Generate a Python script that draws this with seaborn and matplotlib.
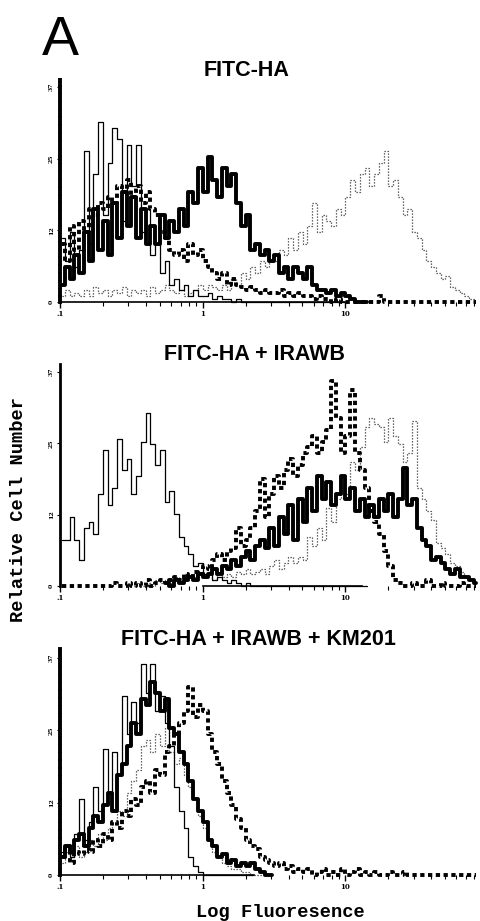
import numpy as np
import pandas as pd
import matplotlib
matplotlib.use("Agg")
import matplotlib.pyplot as plt
import seaborn as sns

nan = np.nan

# ---- data: histogram counts per log channel (30 channels / decade, 0.1 .. ~85) ----
panel_titles = ["FITC-HA", "FITC-HA + IRAWB", "FITC-HA + IRAWB + KM201"]
ytick_values = [0, 12.33, 24.67, 37]
ytick_labels = ["0", "12", "25", "37"]
xtick_values = [0.1, 1, 10]
xtick_labels = [".1", "1", "10"]

# Panel 1: FITC-HA
p1_thin = [11, 7, 12, 6, 9, 26, 10, 22, 31, 15, 24, 30, 28, 14, 27, 20, 27, 12, 16, 8,
           10, 5, 7, 3, 4, 2, 3, 1, 2, 1, 1, 1.5, 0.5, 1, 0.5, 0.5, 0, 0.5, 0, 0] \
          + [0] * 21 + [nan] * 27
p1_thick = [3, 6, 4, 8, 5, 12, 7, 16, 9, 14, 8, 17, 11, 19, 13, 18, 11, 16, 10, 13,
            10, 15, 11, 14, 12, 16, 13, 19, 17, 23, 19, 25, 21, 18, 23, 20, 22, 17, 13, 15,
            9, 10, 8, 9, 7, 8, 5, 6, 4, 6, 5, 4, 6, 3, 2, 2, 1.5, 2, 1, 1.5,
            1, 0.5, 0, 0, 0] + [nan] * 23
p1_dash = [10, 7, 13, 9, 14, 12, 16, 15, 17, 16, 18, 17, 20, 19, 21, 18, 20, 17, 19, 16,
           15, 12, 11, 9, 8, 9, 7, 10, 8, 9, 7, 6, 5, 4, 5, 3, 4, 3, 2.5, 2,
           2.5, 2, 1.5, 2, 1.5, 1.5, 2, 1, 1.5, 1, 1.5, 1, 1, 0.5, 1, 0.5, 0.5, 0, 0.5, 0,
           0, 0, 0, 0, 0, 0, 0, 1, 0, 0] + [0] * 18
p1_dot = [1, 2, 1, 1.5, 1, 2, 1, 2.5, 1.5, 2, 1, 2, 1.5, 2.5, 1, 2, 1.5, 2, 1, 2.5,
          1.5, 2, 3, 2, 1.5, 2, 1, 1.5, 2, 3, 2, 3, 2.5, 2, 3, 2, 4, 3, 5, 4,
          6, 5, 7, 6, 8, 7, 9, 8, 11, 9, 12, 10, 13, 17, 12, 15, 14, 13, 16, 15,
          18, 21, 19, 22, 23, 20, 22, 24, 26, 20, 21, 18, 15, 16, 12, 11, 9, 7, 6, 5,
          4, 4.5, 2.5, 2, 1.5, 1, 0.5, 0]

# Panel 2: FITC-HA + IRAWB
p2_thin = [8, 8, 12, 8, 4.5, 10, 11, 9, 16, 23.5, 14, 17, 25.5, 20, 22, 16, 19, 25, 30, 24.5,
           21, 23.5, 14.5, 16.5, 12.5, 8.5, 7, 5.5, 3.5, 4, 2, 2.5, 1, 1.5, 1, 0.5, 1, 0.5, 0, 0.5] \
          + [0] * 25 + [nan] * 23
p2_thick = [nan] * 22 + [0.5, 0, 1, 0.5, 1, 1.5, 1, 2, 1.5, 2, 3, 2, 3.5, 3, 4.5, 3.5, 5, 6,
            4.5, 7, 8, 6.5, 10, 7, 12, 9, 14, 8, 15, 11, 17, 13, 19, 15, 18, 14, 16, 19,
            15, 17, 13, 15, 12, 14, 12, 15, 13, 16, 12, 15, 20.5, 14, 15, 10, 8, 7, 4.5, 5,
            4, 3, 2, 3, 1.5, 1.5, 1, 0.5]
p2_dash = [0] * 10 + [0, 0.5, 0, 0, 0.5, 0, 0.5, 0, 1, 0,
           0.5, 1, 0.5, 1, 1.5, 1, 2, 1.5, 2.5, 2, 3.5, 3, 4.5, 5.5, 4.5, 6, 6.5, 10, 7, 8,
           10, 13, 18.5, 12, 16, 19, 17, 20, 22, 19, 21, 23, 24, 26, 23, 25, 27, 35.5, 29, 23,
           26, 34, 23, 20, 17, 13, 11, 9, 6, 3.5, 1, 0.5, 0, 0, 0.5, 0, 0, 1, 0, 0,
           0.5, 0, 0, 0, 0.5, 0, 0, 0]
p2_dot = [nan] * 15 + [0, 0.5, 0, 0.5, 0, 1, 0.5, 1, 0.5, 1.5, 1, 2, 1, 1.5, 2,
          1.5, 2, 1, 2.5, 1.5, 2, 1.5, 2.5, 2, 3, 2, 2.5, 3, 2, 3.5, 4.5, 3, 4, 5, 4,
          5, 4.5, 8.5, 7, 10, 8, 13.5, 11, 15, 17, 16, 21.5, 20, 24, 27.5, 29, 28, 27.5, 25, 29,
          26, 24.5, 21.5, 23, 28.5, 17, 15, 13, 11.5, 7.5, 6.5, 5.5, 4, 3.5, 2.5, 1.5, 1, 0.5]

# Panel 3: FITC-HA + IRAWB + KM201
p3_thin = [4, 5, 3, 7, 13, 6, 9, 15, 11, 21.5, 14, 21, 17, 30.5, 24, 29.5, 26, 36, 31, 36,
           28, 30.5, 26, 22, 15, 11, 8, 3, 1.5, 0.5] + [0] * 11 + [nan] * 47
p3_thick = [3, 5, 4, 6, 7, 5, 8, 10, 9, 12, 14, 11, 17, 19, 22, 26, 24, 30, 29, 33,
            31, 28, 30, 25, 24, 21, 19, 16, 13, 11, 9, 6, 5, 3, 3.5, 2, 2.5, 1.5, 2, 1.5,
            2, 1, 0.5, 0, 0] + [nan] * 43
p3_dash = [3, 5, 2, 4, 3.5, 5, 4, 6, 5, 7, 6, 9, 8, 11, 10, 13, 12, 15, 16, 14,
           18, 17, 21, 22, 24, 26, 28, 32, 27, 29, 28, 24, 21, 19, 16, 14, 12, 9.5, 8, 6,
           5, 4.5, 3, 2.5, 2, 1.5, 2, 1, 1.5, 0.5, 1, 0.5, 1, 0, 0.5, 1, 0, 0.5, 0, 1,
           0, 0.5, 1, 0, 0.5, 0, 0.5, 0, 0, 0.5, 0, 0, 0.5, 0, 0] + [0] * 13
p3_dot = [2, 4, 3, 5, 3, 4, 6, 5, 7, 6, 8, 9, 11, 10, 14, 16, 18, 22, 23, 21,
          24, 22, 25, 21, 19, 20, 17, 15, 13, 10, 8, 6, 4, 3, 2, 1.5, 1, 1, 0.5, 0.5,
          0, 0, 0, 0, 0] + [nan] * 43

panels = [
    dict(dot=p1_dot, thin=p1_thin, thick=p1_thick, dash=p1_dash),
    dict(dot=p2_dot, thin=p2_thin, thick=p2_thick, dash=p2_dash),
    dict(dot=p3_dot, thin=p3_thin, thick=p3_thick, dash=p3_dash),
]

# ---- styling ----
sns.set_style("ticks")
plt.rcParams["font.family"] = ["Liberation Sans", "DejaVu Sans"]
for key in ["text.color", "axes.labelcolor", "xtick.color", "ytick.color", "axes.edgecolor"]:
    plt.rcParams[key] = "black"

n_ch = 88
edges = np.logspace(-1, -1 + n_ch / 30, n_ch + 1)
centers = np.sqrt(edges[:-1] * edges[1:])

fig = plt.figure(figsize=(4.8, 9.21), dpi=100)

rects = [
    [0.125, 0.6690, 0.871, 0.2460],
    [0.125, 0.3606, 0.871, 0.2447],
    [0.125, 0.0468, 0.871, 0.2481],
]
left_spine_style = ["dash", "solid", "dash"]
baseline_bounds = [(0.1, 10), (1, 13), (0.1, 2.3)]
title_pos = [(247, 70.5), (254, 354), (258, 639.5)]

styles = {
    "dot": dict(color="#3a3a3a", linewidth=0.9, linestyle=(0, (1, 1.4))),
    "thin": dict(color="black", linewidth=0.9, linestyle="-"),
    "thick": dict(color="black", linewidth=2.8, linestyle="-"),
    "dash": dict(color="black", linewidth=2.8, linestyle=(0, (1.1, 0.9))),
}

for i, (rect, pdata) in enumerate(zip(rects, panels)):
    ax = fig.add_axes(rect)
    for key in ["dot", "thin", "thick", "dash"]:
        df = pd.DataFrame({"x": centers, "y": pdata[key]}).dropna()
        sns.lineplot(data=df, x="x", y="y", ax=ax, estimator=None,
                     drawstyle="steps-mid", **styles[key])
    ax.set_xscale("log")
    ax.set_xlim(0.1, 85)
    ax.set_ylim(-0.5, 38.5)
    ax.set_xlabel("")
    ax.set_ylabel("")
    for s in ["top", "right"]:
        ax.spines[s].set_visible(False)
    ax.spines["bottom"].set_position(("data", 0))
    ax.spines["bottom"].set_bounds(*baseline_bounds[i])
    ax.spines["bottom"].set_linewidth(1.2)
    ax.spines["bottom"].set_color("black")
    ax.spines["left"].set_bounds(0, 38.5)
    ax.spines["left"].set_color("black")
    if left_spine_style[i] == "dash":
        ax.spines["left"].set_linestyle((0, (1.1, 0.9)))
        ax.spines["left"].set_linewidth(2.8)
    else:
        ax.spines["left"].set_linewidth(2.0)
    ax.set_xticks(xtick_values)
    ax.set_xticklabels(xtick_labels, fontsize=5, fontweight="bold", family="DejaVu Serif")
    ax.xaxis.set_minor_locator(matplotlib.ticker.LogLocator(base=10, subs=np.arange(2, 10)))
    ax.xaxis.set_minor_formatter(matplotlib.ticker.NullFormatter())
    ax.tick_params(axis="x", which="major", length=4, width=1, pad=2, direction="out",
                   color="black", labelcolor="black")
    ax.tick_params(axis="x", which="minor", length=3, width=0.8, direction="out", color="black")
    ax.set_yticks(ytick_values)
    ax.set_yticklabels(ytick_labels, fontsize=4.5, fontweight="bold",
                       family="DejaVu Serif", rotation=90, va="center")
    ax.tick_params(axis="y", length=2.5, width=0.8, pad=2, direction="out",
                   color="black", labelcolor="black")
    ax.patch.set_alpha(0)
    tx, ty = title_pos[i]
    fig.text(tx / 480, 1 - ty / 921, panel_titles[i], ha="center", va="center",
             fontsize=15.5, fontweight="bold", color="black",
             family=["Liberation Sans", "DejaVu Sans"])

fig.text(42 / 480, 1 - 55 / 921, "A", fontsize=40, va="baseline", ha="left", color="black",
         family=["Liberation Sans", "DejaVu Sans"])
fig.text(280 / 480, 1 - 912 / 921, "Log Fluoresence", ha="center", va="center",
         fontsize=13.5, fontweight="bold", color="black",
         family=["Liberation Mono", "DejaVu Sans Mono"])
fig.text(19 / 480, 1 - 510 / 921, "Relative Cell Number", ha="center", va="center",
         rotation=90, fontsize=13.5, fontweight="bold", color="black",
         family=["Liberation Mono", "DejaVu Sans Mono"])

fig.savefig("out.png", dpi=100)
